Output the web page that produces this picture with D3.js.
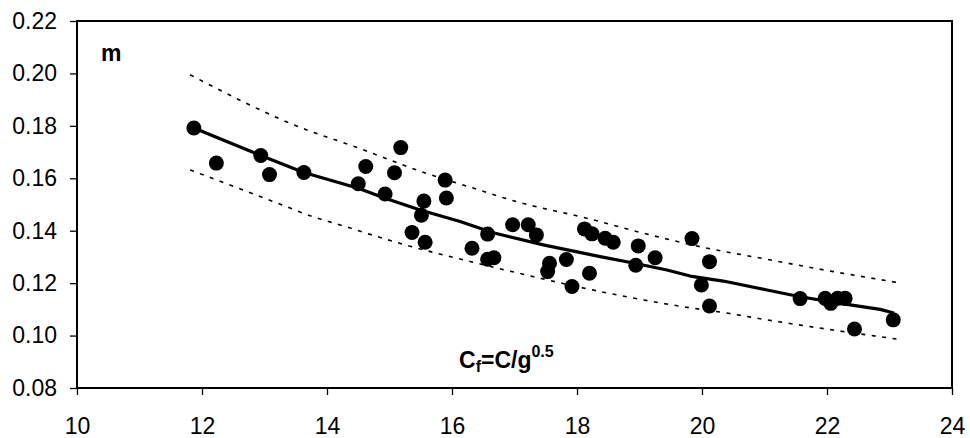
<!DOCTYPE html>
<html>
<head>
<meta charset="utf-8">
<script src="https://cdn.jsdelivr.net/npm/d3@7"></script>
<style>
  html, body { margin: 0; padding: 0; background: #fff; }
  svg { display: block; font-family: "Liberation Sans", Arial, sans-serif; }
</style>
</head>
<body>
<svg id="chart" width="970" height="438"></svg>
<script>
// ---- data ----
const cfValues = [11.87, 12.23, 12.94, 13.08, 13.63, 14.50, 14.62, 14.93, 15.08, 15.18,
  15.36, 15.51, 15.55, 15.57, 15.89, 15.91, 16.32, 16.57, 16.57, 16.67,
  16.97, 17.22, 17.35, 17.53, 17.56, 17.83, 17.92, 18.12, 18.24, 18.45,
  18.58, 18.20, 18.94, 18.98, 19.25, 19.84, 19.99, 20.12, 20.12, 21.57,
  21.97, 22.06, 22.17, 22.29, 22.44, 23.06];
const mValues = [0.1792, 0.1658, 0.1687, 0.1614, 0.1622, 0.1579, 0.1645, 0.1540, 0.1621, 0.1717,
  0.1393, 0.1459, 0.1513, 0.1356, 0.1593, 0.1525, 0.1333, 0.1387, 0.1291, 0.1297,
  0.1423, 0.1423, 0.1384, 0.1244, 0.1276, 0.1290, 0.1187, 0.1407, 0.1388, 0.1371,
  0.1356, 0.1238, 0.1268, 0.1342, 0.1297, 0.1370, 0.1193, 0.1282, 0.1113, 0.1141,
  0.1142, 0.1123, 0.1142, 0.1142, 0.1025, 0.1060];

const fitX = [11.87, 12.94, 13.63, 14.50, 14.93, 15.49, 16.13, 16.66, 17.46, 18.37,
  18.90, 19.44, 19.81, 20.34, 21.04, 21.57, 22.21, 22.85, 23.07];
const fitY = [0.1792, 0.1687, 0.1622, 0.1562, 0.1524, 0.1479, 0.1435, 0.1392, 0.1346, 0.1301,
  0.1277, 0.1250, 0.1227, 0.1208, 0.1174, 0.1148, 0.1123, 0.1100, 0.1086];

const upperX = [11.81, 13.67, 14.37, 15.59, 16.40, 17.03, 18.10, 19.17, 19.97, 21.04, 22.10, 23.14];
const upperY = [0.1995, 0.1785, 0.1727, 0.1619, 0.1558, 0.1511, 0.1451, 0.1384, 0.1339, 0.1291, 0.1244, 0.1202];

const lowerX = [11.81, 12.34, 13.21, 13.77, 14.21, 15.12, 16.40, 17.03, 18.37, 19.70, 20.42, 21.04, 22.10, 23.14];
const lowerY = [0.1632, 0.1584, 0.1505, 0.1454, 0.1422, 0.1355, 0.1276, 0.1240, 0.1168, 0.1110, 0.1085, 0.1060, 0.1021, 0.0986];

const xTicks = [10, 12, 14, 16, 18, 20, 22, 24];
const yTicks = [0.08, 0.10, 0.12, 0.14, 0.16, 0.18, 0.20, 0.22];

// ---- layout ----
const svg = d3.select("#chart");
const L = 77, R = 952, T = 21, B = 388;
const x = d3.scaleLinear().domain([10, 24]).range([L, R]);
const y = d3.scaleLinear().domain([0.08, 0.22]).range([B, T]);

// axes
const yAxis = d3.axisLeft(y).tickValues(yTicks).tickFormat(d3.format(".2f"))
  .tickSize(7).tickPadding(13);
const xAxis = d3.axisBottom(x).tickValues(xTicks).tickFormat(d3.format("d"))
  .tickSize(7).tickPadding(23);

const gy = svg.append("g").attr("transform", `translate(${L},0)`).call(yAxis);
const gx = svg.append("g").attr("transform", `translate(0,${B})`).call(xAxis);
[gy, gx].forEach(g => {
  g.select(".domain").remove();
  g.selectAll(".tick line").attr("stroke", "#000").attr("stroke-width", 1.3);
  g.selectAll(".tick text").attr("fill", "#000").style("font-size", "23px")
    .style("font-family", "'Liberation Sans', Arial, sans-serif");
});

// plot frame
svg.append("rect").attr("x", L).attr("y", T).attr("width", R - L).attr("height", B - T)
  .attr("fill", "none").attr("stroke", "#000").attr("stroke-width", 2);

// bounds (dotted)
const mkLine = d3.line().x(d => x(d[0])).y(d => y(d[1])).curve(d3.curveMonotoneX);
svg.append("path").datum(d3.zip(upperX, upperY)).attr("d", mkLine)
  .attr("fill", "none").attr("stroke", "#000").attr("stroke-width", 1.6)
  .attr("stroke-dasharray", "4,6.5");
svg.append("path").datum(d3.zip(lowerX, lowerY)).attr("d", mkLine)
  .attr("fill", "none").attr("stroke", "#000").attr("stroke-width", 1.6)
  .attr("stroke-dasharray", "4,6.5");

// fit line
svg.append("path").datum(d3.zip(fitX, fitY)).attr("d", d3.line().x(d => x(d[0])).y(d => y(d[1])))
  .attr("fill", "none").attr("stroke", "#000").attr("stroke-width", 3.2)
  .attr("stroke-linejoin", "round");

// points
svg.append("g").selectAll("circle").data(d3.zip(cfValues, mValues)).join("circle")
  .attr("cx", d => x(d[0])).attr("cy", d => y(d[1])).attr("r", 7.5).attr("fill", "#000");

// labels
svg.append("text").attr("x", 101).attr("y", 61).text("m")
  .style("font-size", "23px").style("font-weight", "bold").attr("fill", "#000");

const eq = svg.append("text").attr("x", 459).attr("y", 368)
  .style("font-size", "23px").style("font-weight", "bold").attr("fill", "#000");
eq.append("tspan").text("C");
eq.append("tspan").text("f").style("font-size", "16px").attr("dy", 4);
eq.append("tspan").text("=C/g").attr("dy", -4);
eq.append("tspan").text("0.5").style("font-size", "16px").attr("dy", -11);
</script>
</body>
</html>
